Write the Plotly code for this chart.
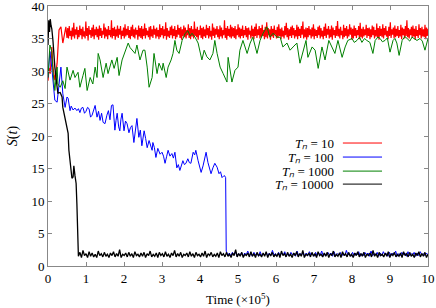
import numpy as np
import plotly.graph_objects as go

# ---------------- data (time in units of 1e5) ----------------
# T_n = 10 : early transient, then a noisy plateau
red_early_t = [0, 0.03, 0.06, 0.1, 0.13, 0.18, 0.24, 0.26, 0.29, 0.34, 0.37, 0.39, 0.42, 0.47]
red_early_s = [28.5, 30.5, 29.6, 33.7, 30.6, 28.6, 31.2, 33.7, 36.3, 36.8, 34.7, 34.3, 35.2, 36.8]
red_plateau_s = [
    35.1, 36.6, 35.0, 36.9, 35.4, 36.2, 34.8, 36.7, 35.3, 37.4, 35.0, 36.4, 35.6, 36.8, 34.9, 36.3, 35.2, 37.0, 35.5, 36.5,
    34.9, 36.8, 35.3, 36.1, 35.0, 37.6, 35.4, 36.6, 34.7, 36.9, 35.6, 36.3, 35.1, 36.7, 35.3, 37.1, 34.9, 36.4, 35.5, 36.8,
    35.2, 36.5, 34.8, 37.0, 35.4, 36.6, 35.1, 36.2, 35.6, 37.3, 35.0, 36.7, 35.3, 36.4, 34.9, 36.9, 35.5, 36.3, 35.2, 37.8,
    35.0, 36.6, 35.4, 36.8, 34.8, 36.4, 35.3, 37.0, 35.1, 36.5, 35.6, 36.9, 34.9, 36.2, 35.4, 36.7, 35.0, 37.2, 35.3, 36.5,
    35.5, 36.9, 35.1, 36.3, 34.9, 36.8, 35.4, 37.1, 35.2, 36.4, 35.0, 36.7, 35.6, 36.3, 34.8, 37.0, 35.3, 36.6, 35.1, 36.9,
    34.9, 36.5, 35.4, 37.3, 35.0, 36.6, 35.5, 36.2, 35.2, 36.8, 34.8, 36.9, 35.3, 36.4, 35.1, 37.0, 35.6, 36.5, 35.0, 36.7,
    35.3, 36.3, 34.9, 37.2, 35.2, 36.6, 35.5, 36.9, 35.0, 36.4, 35.4, 37.5, 34.8, 36.6, 35.3, 36.2, 35.1, 36.8, 35.5, 37.0,
    35.0, 36.5, 35.4, 36.9, 34.9, 36.3, 35.2, 37.1, 35.6, 36.6, 35.1, 36.8, 34.8, 36.4, 35.4, 37.0, 35.2, 36.7, 35.0, 36.3,
    35.5, 37.2, 35.1, 36.6, 34.9, 36.9, 35.3, 36.4, 35.0, 37.6, 35.4, 36.5, 35.2, 36.8, 34.8, 36.3, 35.5, 37.0, 35.1, 36.6,
    34.9, 36.8, 35.3, 36.4, 35.1, 37.1, 35.5, 36.6, 35.0, 36.9, 35.3, 36.2, 34.8, 37.3, 35.4, 36.7, 35.1, 36.5, 35.6, 36.9,
    35.2, 36.4, 34.9, 37.0, 35.3, 36.7, 35.0, 36.3, 35.5, 37.8, 35.1, 36.6, 34.8, 36.9, 35.4, 36.5, 35.2, 37.1, 35.0, 36.8,
    35.3, 36.6, 35.1, 36.9, 34.9, 36.4, 35.5, 37.2, 35.2, 36.7, 35.0, 36.5, 35.4, 37.0, 35.1, 36.3, 35.5, 36.9, 35.2, 36.6,
    34.8, 36.7, 35.6, 36.2, 35.0, 37.0, 35.3, 36.5, 34.9, 36.8, 35.4, 37.3, 35.1, 36.4, 35.5, 36.9, 35.0, 36.6, 35.2, 37.1,
    35.4, 36.3, 34.9, 36.8, 35.2, 37.5, 35.0, 36.6, 35.5, 36.4, 34.8, 36.9, 35.3, 36.5, 35.1, 37.0, 35.6, 36.3, 35.0, 36.8,
    35.1, 37.2, 35.4, 36.5, 34.9, 36.7, 35.3, 36.2, 35.0, 36.9, 35.5, 37.4, 35.2, 36.6, 34.8, 36.4, 35.4, 36.8, 35.1, 37.0,
    35.5, 36.6, 35.0, 36.3, 35.3, 37.1, 34.9, 36.8, 35.4, 36.5, 35.1, 36.9, 35.6, 37.6, 35.0, 36.4, 35.2, 36.7, 34.8, 36.6,
    35.2, 36.9, 35.5, 36.4, 35.0, 36.7, 35.3, 37.2, 34.9, 36.5, 35.4, 36.3, 35.1, 36.8, 35.5, 37.0, 35.0, 36.6, 35.3, 36.2,
    34.9, 36.8, 35.4, 37.3, 35.1, 36.5, 35.6, 36.9, 35.0, 36.4, 35.2, 37.0, 34.8, 36.7, 35.5, 36.3, 35.1, 36.9, 35.4, 37.7,
    35.3, 36.5, 35.0, 36.8, 35.5, 36.2, 34.9, 37.1, 35.2, 36.6, 35.4, 36.9, 35.0, 36.4, 35.3, 37.2, 35.6, 36.7, 34.8, 36.5,
    35.0, 37.0, 35.4, 36.6, 35.1, 36.3, 35.5, 36.9, 34.9, 37.4, 35.2, 36.5, 35.0, 36.8, 35.3, 36.4, 35.5, 37.1, 35.1, 36.6,
    35.4, 36.7, 34.9, 36.4, 35.2, 37.0, 35.5, 36.8, 35.0, 36.3, 35.3, 37.3, 35.1, 36.6, 34.8, 36.9, 35.4, 36.5, 35.2, 37.2,
    35.0, 36.6, 35.5, 36.9, 35.3, 36.2, 34.9, 36.8, 35.4, 37.5, 35.1, 36.4, 35.6, 36.7, 35.0, 37.0, 35.2, 36.5, 35.4, 36.9,
    35.1, 36.3, 35.3, 37.1, 34.9, 36.7, 35.5, 36.5, 35.0, 36.9, 35.4, 37.8, 35.2, 36.6, 35.0, 36.4, 35.5, 36.8, 35.1, 37.0,
    35.3, 36.5, 34.8, 36.9, 35.4, 36.3, 35.1, 37.2, 35.5, 36.6, 35.0, 36.8, 35.3, 36.4, 35.2, 37.1, 34.9, 36.7, 35.4, 36.5,
]
red_plateau_start, red_plateau_end = 0.5, 10.0

# T_n = 100 : slow decay then collapse at t ~ 4.68
blue_t = [0, 0.05, 0.1, 0.13, 0.18, 0.24, 0.29, 0.34, 0.39, 0.45, 0.5, 0.53, 0.58, 0.61, 0.66, 0.71, 0.76, 0.8,
          0.84, 0.88, 0.92, 0.96, 1.0, 1.04, 1.08, 1.12, 1.16, 1.2, 1.24, 1.29, 1.33, 1.37, 1.41, 1.45, 1.5,
          1.55, 1.59, 1.63, 1.67, 1.71, 1.76, 1.79, 1.82, 1.86, 1.89, 1.92, 1.95, 2.0, 2.04, 2.08, 2.13, 2.17,
          2.21, 2.26, 2.3, 2.34, 2.39, 2.43, 2.47, 2.53, 2.57, 2.61, 2.66, 2.7, 2.74, 2.76, 2.8, 2.84, 2.89,
          2.95, 3.0, 3.04, 3.08, 3.12, 3.16, 3.21, 3.26, 3.3, 3.34, 3.39, 3.43, 3.47, 3.51, 3.55, 3.59, 3.63,
          3.68, 3.72, 3.76, 3.82, 3.86, 3.89, 3.95, 3.99, 4.03, 4.08, 4.12, 4.16, 4.21, 4.25, 4.29, 4.34,
          4.39, 4.45, 4.5, 4.54, 4.58, 4.63, 4.66, 4.675]
blue_s = [29.0, 33.0, 30.5, 28.6, 25.5, 25.2, 28.0, 30.6, 26.5, 24.4, 26.0, 25.8, 23.9, 24.6, 24.0, 24.3, 23.9, 24.2,
          23.6, 24.3, 24.4, 23.5, 23.8, 24.4, 24.2, 22.9, 23.2, 24.1, 24.7, 22.9, 23.8, 22.4, 23.5, 22.1, 21.9,
          23.2, 23.9, 22.5, 24.7, 24.8, 20.9, 22.4, 23.5, 21.4, 20.8, 22.6, 23.5, 20.8, 22.3, 21.9, 20.5, 21.3,
          21.6, 19.0, 21.1, 22.7, 19.8, 20.9, 18.5, 20.8, 19.6, 18.2, 19.3, 18.4, 17.8, 19.0, 18.2, 16.7, 18.1,
          17.2, 17.5, 16.9, 15.8, 16.8, 17.8, 16.9, 17.3, 16.6, 17.5, 15.1, 15.6, 14.7, 15.4, 16.2, 15.6, 15.8,
          16.5, 15.9, 15.8, 17.5, 17.1, 17.8, 16.2, 15.0, 14.4, 15.4, 16.6, 17.5, 15.9, 14.8, 14.2, 15.1,
          15.8, 15.2, 14.2, 14.5, 13.6, 13.9, 13.8, 13.6]
blue_tail_s = [
    2.3, 1.6, 2.0, 1.5, 2.1, 1.7, 2.2, 1.5, 1.9, 1.6, 2.1, 1.5, 2.0, 1.7, 2.3, 1.6, 1.9, 1.5, 2.1, 1.7,
    2.0, 1.5, 2.2, 1.6, 1.9, 1.7, 2.1, 1.5, 2.0, 1.6, 2.4, 1.7, 1.9, 1.5, 2.1, 1.6, 2.0, 1.7, 2.2, 1.5,
    1.9, 1.6, 2.1, 1.7, 2.0, 1.5, 2.3, 1.6, 1.9, 1.7, 2.1, 1.5, 2.0, 1.6, 2.2, 1.7, 1.9, 1.5, 2.1, 1.6,
    2.0, 1.7, 2.3, 1.5, 1.9, 1.6, 2.1, 1.7, 2.0, 1.5, 2.2, 1.6, 1.9, 1.7, 2.1, 1.5, 2.0, 1.6, 2.4, 1.7,
    1.9, 1.5, 2.1, 1.6, 2.0, 1.7, 2.2, 1.5, 1.9, 1.6, 2.1, 1.7, 2.0, 1.5, 2.3, 1.6, 1.9, 1.7, 2.1, 1.5,
    2.0, 1.6, 2.2, 1.7, 1.9, 1.5, 2.1, 1.6, 2.0, 1.7, 2.3, 1.5, 1.9, 1.6, 2.1, 1.7, 2.0, 1.5, 2.2, 1.6,
    1.9, 1.7, 2.1, 1.5, 2.0, 1.6, 2.2, 1.7, 1.9, 1.6, 2.0, 1.7,
]
blue_tail_start, blue_tail_end = 4.69, 10.0

# T_n = 1000 : fluctuating, slowly rising towards the T_n = 10 level
green_t = [0, 0.05, 0.1, 0.13, 0.18, 0.24, 0.26, 0.32, 0.39, 0.45, 0.5, 0.54, 0.58, 0.66, 0.71, 0.79, 0.84,
           0.92, 0.97, 1.03, 1.11, 1.18, 1.24, 1.29, 1.32, 1.37, 1.45, 1.53, 1.58, 1.68, 1.74, 1.82, 1.87,
           1.95, 2.03, 2.11, 2.16, 2.21, 2.29, 2.34, 2.42, 2.5, 2.55, 2.61, 2.66, 2.74, 2.79, 2.87, 2.92,
           3.0, 3.03, 3.11, 3.16, 3.24, 3.29, 3.34, 3.39, 3.45, 3.53, 3.61, 3.68, 3.74, 3.79, 3.87, 3.95,
           4.05, 4.11, 4.18, 4.26, 4.34, 4.39, 4.45, 4.53, 4.61, 4.71, 4.74, 4.84, 4.92, 5.0, 5.05, 5.13,
           5.24, 5.32, 5.39, 5.5, 5.58, 5.66, 5.76, 5.84, 5.92, 6.03, 6.11, 6.18, 6.29, 6.37, 6.45, 6.55,
           6.63, 6.71, 6.79, 6.84, 6.95, 7.03, 7.11, 7.21, 7.29, 7.39, 7.47, 7.55, 7.63, 7.74, 7.82, 7.89,
           8.0, 8.06, 8.13, 8.2, 8.26, 8.33, 8.39, 8.47, 8.55, 8.61, 8.68, 8.74, 8.8, 8.87, 8.93, 9.0, 9.08,
           9.13, 9.18, 9.24, 9.32, 9.39, 9.45, 9.52, 9.58, 9.64, 9.71, 9.79, 9.85, 9.92, 9.97, 10.0]
green_s = [29.0, 34.0, 33.0, 30.0, 27.0, 30.6, 28.0, 27.5, 28.5, 27.3, 30.6, 29.4, 28.6, 30.1, 29.0, 29.8, 27.5,
           29.3, 30.4, 27.0, 29.0, 28.0, 30.6, 29.0, 32.7, 31.7, 29.0, 31.2, 29.6, 31.7, 30.4, 32.1, 29.3,
           31.7, 32.9, 34.3, 33.6, 33.2, 32.7, 34.0, 31.7, 33.2, 33.2, 30.6, 27.5, 29.0, 32.7, 29.6, 31.2,
           30.1, 31.2, 29.0, 30.6, 31.7, 32.7, 34.7, 33.2, 32.7, 34.7, 35.8, 36.2, 35.4, 35.8, 35.2, 34.3,
           31.7, 33.2, 32.2, 31.7, 32.7, 34.7, 32.7, 30.6, 29.6, 28.3, 32.1, 28.3, 30.1, 30.6, 33.2, 34.7,
           32.7, 34.3, 35.2, 32.7, 34.7, 35.8, 36.8, 35.2, 35.8, 35.2, 35.2, 33.7, 34.3, 33.2, 33.7, 34.3,
           31.2, 33.2, 34.7, 32.1, 33.7, 33.2, 30.4, 33.7, 31.7, 34.7, 33.7, 32.7, 34.7, 32.1, 33.7, 34.7,
           35.0, 34.4, 34.7, 35.2, 34.4, 35.0, 34.7, 34.4, 32.7, 34.7, 35.2, 35.0, 34.5, 34.7, 35.1, 32.9, 34.7,
           35.0, 34.3, 32.4, 34.7, 35.3, 35.0, 34.6, 35.2, 35.0, 34.7, 35.0, 34.6, 33.2, 34.7, 35.0]

# T_n = 10000 : early collapse at t ~ 0.79
black_t = [0, 0.02, 0.04, 0.06, 0.08, 0.1, 0.13, 0.18, 0.24, 0.26, 0.32, 0.37, 0.39, 0.45, 0.5, 0.53,
           0.55, 0.58, 0.61, 0.63, 0.66, 0.68, 0.71, 0.74, 0.76, 0.78]
black_s = [34.0, 37.8, 36.0, 38.0, 37.0, 36.5, 34.7, 30.6, 27.5, 26.6, 26.7, 26.0, 24.4, 22.9, 21.3, 20.4,
           17.8, 15.8, 13.6, 13.5, 13.7, 15.4, 13.9, 12.7, 9.6, 2.0]
black_tail_s = [
    1.5, 2.1, 1.3, 2.4, 1.6, 1.9, 1.3, 2.2, 1.5, 2.0, 1.4, 1.8, 1.3, 2.3, 1.6, 1.9, 1.4, 2.1, 1.5, 1.8,
    1.3, 2.0, 1.6, 2.2, 1.4, 1.9, 1.5, 2.5, 1.3, 1.8, 1.6, 2.0, 1.4, 2.1, 1.5, 1.9, 1.3, 2.2, 1.6, 1.8,
    1.4, 2.0, 1.5, 2.1, 1.3, 1.9, 1.6, 2.3, 1.4, 1.8, 1.5, 2.0, 1.3, 2.1, 1.6, 1.9, 1.4, 2.2, 1.5, 1.8,
    1.3, 2.0, 1.6, 2.4, 1.4, 1.9, 1.5, 2.1, 1.3, 1.8, 1.6, 2.0, 1.4, 2.2, 1.5, 1.9, 1.3, 2.1, 1.6, 1.8,
    1.4, 2.0, 1.5, 2.3, 1.3, 1.9, 1.6, 2.1, 1.4, 1.8, 1.5, 2.0, 1.3, 2.2, 1.6, 1.9, 1.4, 2.1, 1.5, 1.8,
    1.3, 2.0, 1.6, 2.5, 1.4, 1.9, 1.5, 2.1, 1.3, 1.8, 1.6, 2.0, 1.4, 2.2, 1.5, 1.9, 1.3, 2.1, 1.6, 1.8,
    1.4, 2.0, 1.5, 2.2, 1.3, 1.9, 1.6, 2.1, 1.4, 1.8, 1.5, 2.0, 1.3, 2.3, 1.6, 1.9, 1.4, 2.1, 1.5, 1.8,
    1.3, 2.0, 1.6, 2.2, 1.4, 1.9, 1.5, 2.4, 1.3, 1.8, 1.6, 2.0, 1.4, 2.1, 1.5, 1.9, 1.3, 2.2, 1.6, 1.8,
    1.4, 2.0, 1.5, 2.1, 1.3, 1.9, 1.6, 2.3, 1.4, 1.8, 1.5, 2.0, 1.3, 2.2, 1.6, 1.9, 1.4, 2.1, 1.5, 1.8,
    1.3, 2.0, 1.6, 2.2, 1.4, 1.9, 1.5, 2.1, 1.3, 1.8, 1.6, 2.0, 1.4, 2.4, 1.5, 1.9, 1.3, 2.1, 1.6, 1.8,
    1.4, 2.0, 1.5, 2.2, 1.3, 1.9, 1.6, 2.1, 1.4, 1.8, 1.5, 2.0, 1.3, 2.2, 1.6, 1.9, 1.4, 2.1, 1.5, 1.8,
    1.3, 2.0, 1.6, 2.2, 1.4, 1.9, 1.5, 2.1, 1.3, 1.8,
]
black_tail_start, black_tail_end = 0.8, 10.0

series_labels = ["10", "100", "1000", "10000"]
series_colors = ["#ff0000", "#0000ff", "#008000", "#000000"]

x_ticks = list(range(0, 11))
y_ticks = list(range(0, 41, 5))

# ---------------- assemble ----------------
red_t = red_early_t + list(np.linspace(red_plateau_start, red_plateau_end, len(red_plateau_s)))
red_s = red_early_s + red_plateau_s
blue_all_t = blue_t + list(np.linspace(blue_tail_start, blue_tail_end, len(blue_tail_s)))
blue_all_s = blue_s + blue_tail_s
black_all_t = black_t + list(np.linspace(black_tail_start, black_tail_end, len(black_tail_s)))
black_all_s = black_s + black_tail_s

curves = [(red_t, red_s), (blue_all_t, blue_all_s), (green_t, green_s), (black_all_t, black_all_s)]
widths = [1.2, 1, 1, 1.3]

FONT = "Liberation Serif"
fig = go.Figure()
for (t, s), lab, col, w in zip(curves, series_labels, series_colors, widths):
    fig.add_trace(go.Scatter(x=t, y=s, mode="lines", name=lab,
                             line=dict(color=col, width=w), showlegend=False))

# legend drawn gnuplot-style: text right-aligned, sample line on the right
leg_y = [0.473, 0.419, 0.365, 0.315]
for lab, col, yy in zip(series_labels, series_colors, leg_y):
    fig.add_annotation(xref="paper", yref="paper", x=0.758, y=yy, xanchor="right", yanchor="middle",
                       text=f"<i>Tₙ</i> = {lab}", showarrow=False,
                       font=dict(family=FONT, size=13, color="black"))
    fig.add_shape(type="line", xref="paper", yref="paper", x0=0.776, x1=0.879, y0=yy, y1=yy,
                  line_color=col, line_width=1, layer="above")

axis_common = dict(showgrid=False, zeroline=False, showline=True, linecolor="#888888", linewidth=1,
                   mirror="allticks", ticks="inside", ticklen=4, tickcolor="#888888",
                   ticklabeloverflow="allow",
                   tickfont=dict(family=FONT, size=13, color="black"))
fig.update_xaxes(range=[0, 10], tickvals=x_ticks, title=dict(text="Time (×10<sup>5</sup>)",
                 font=dict(family=FONT, size=13, color="black"), standoff=10), **axis_common)
fig.update_yaxes(range=[0, 40], tickvals=y_ticks, title=dict(text="<i>S</i>(<i>t</i>)",
                 font=dict(family=FONT, size=14, color="black"), standoff=10), **axis_common)

fig.update_layout(width=436, height=308, margin=dict(l=48, r=8, t=6, b=42, autoexpand=False),
                  paper_bgcolor="white", plot_bgcolor="white", showlegend=False)

fig.write_html("out.html", config={"displayModeBar": False},
               post_script="document.body.style.margin='0';")
